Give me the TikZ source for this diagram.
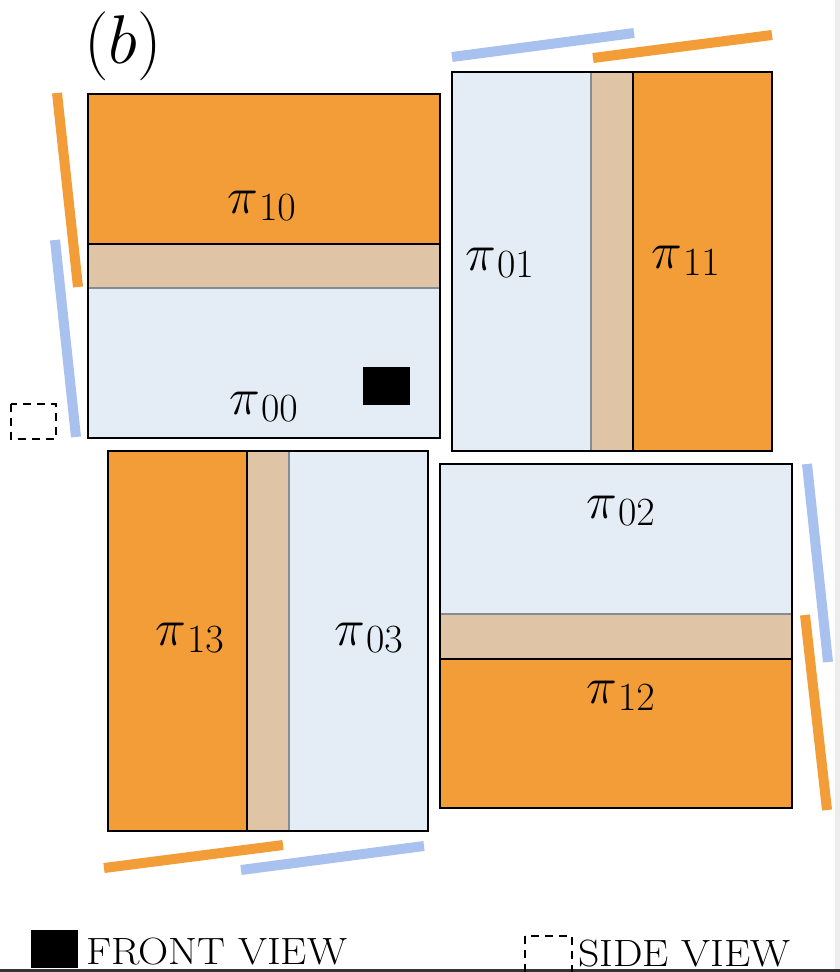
\RequirePackage{fix-cm}
\documentclass[tikz,border=0pt]{standalone}
\usetikzlibrary{positioning}
\DeclareMathSizes{52}{52}{40}{30}
\definecolor{panelorange}{HTML}{F29D38}
\definecolor{panelblue}{HTML}{E4ECF6}
\definecolor{paneltan}{HTML}{DFC4A6}
\definecolor{barblue}{HTML}{A9C1EE}
\definecolor{seamgray}{HTML}{858C94}
\newcommand{\piidx}[1]{$\pi_{\kern3pt#1}$}

\begin{document}
\begin{tikzpicture}[x=1pt, y=-1pt,
    frame/.style={draw=black, line width=2.5pt},
    seam/.style={draw=seamgray, line width=2pt},
    cut/.style={draw=black, line width=2pt},
    bar/.style={line width=10pt},
    sidebox/.style={draw=black, line width=2pt, dash pattern=on 8pt off 6pt},
    lbl/.style={anchor=base west, inner sep=0pt, font=\fontsize{52}{60}\selectfont},
    legend/.style={anchor=base west, inner sep=0pt, font=\fontsize{38}{44}\selectfont}]
    \useasboundingbox (0,0) rectangle (840,972);
    \fill[white] (0,0) rectangle (840,972);
    \fill[black!7] (835,0) rectangle (840,972);
    \fill[black!80] (0,969) rectangle (840,972);

    \node[anchor=base west, inner sep=0pt, font=\fontsize{69}{80}\selectfont] (title) at (84,63) {$(b)$};

    \fill[panelorange] (88,94) rectangle (440,244);
    \fill[paneltan] (88,244) rectangle (440,288);
    \fill[panelblue] (88,288) rectangle (440,438);
    \draw[seam] (88,288) -- (440,288);
    \draw[cut] (88,244) -- (440,244);
    \draw[frame] (88,94) rectangle (440,438);
    \fill (363,367) rectangle (410,405);
    \node[lbl] (p10) at (227,213) {\piidx{10}};
    \node[lbl] (p00) at (229,414) {\piidx{00}};

    \fill[panelblue] (452,72) rectangle (591,451);
    \fill[paneltan] (591,72) rectangle (633,451);
    \fill[panelorange] (633,72) rectangle (772,451);
    \draw[seam] (591,72) -- (591,451);
    \draw[cut] (633,72) -- (633,451);
    \draw[frame] (452,72) rectangle (772,451);
    \node[lbl] (p01) at (465,270) {\piidx{01}};
    \node[lbl] (p11) at (651,268) {\piidx{11}};

    \fill[panelorange] (108,451) rectangle (247,831);
    \fill[paneltan] (247,451) rectangle (289,831);
    \fill[panelblue] (289,451) rectangle (428,831);
    \draw[seam] (289,451) -- (289,831);
    \draw[cut] (247,451) -- (247,831);
    \draw[frame] (108,451) rectangle (428,831);
    \node[lbl] (p13) at (155,645) {\piidx{13}};
    \node[lbl] (p03) at (334,645) {\piidx{03}};

    \fill[panelblue] (440,464) rectangle (792,614);
    \fill[paneltan] (440,614) rectangle (792,659);
    \fill[panelorange] (440,659) rectangle (792,808);
    \draw[seam] (440,614) -- (792,614);
    \draw[cut] (440,659) -- (792,659);
    \draw[frame] (440,464) rectangle (792,808);
    \node[lbl] (p02) at (586,518) {\piidx{02}};
    \node[lbl] (p12) at (586,703) {\piidx{12}};

    \draw[bar, panelorange] (57,93) -- (78,287);
    \draw[bar, barblue] (55,240) -- (76,437);
    \draw[bar, barblue] (452,57) -- (634,33);
    \draw[bar, panelorange] (593,58) -- (772,35);
    \draw[bar, barblue] (807,464) -- (828,662);
    \draw[bar, panelorange] (805,615) -- (827,810);
    \draw[bar, panelorange] (104,868) -- (283,845);
    \draw[bar, barblue] (241,870) -- (424,846);

    \draw[sidebox] (11,404) rectangle (56,439);

    \fill (31,930) rectangle (78,968);
    \node[legend] (front) at (86,964) {\scalebox{1.1}[1]{FRONT VIEW}};
    \draw[sidebox] (525,936) rectangle (572,980);
    \node[legend] (side) at (578,966) {\scalebox{1.1}[1]{SIDE VIEW}};
\end{tikzpicture}
\end{document}
